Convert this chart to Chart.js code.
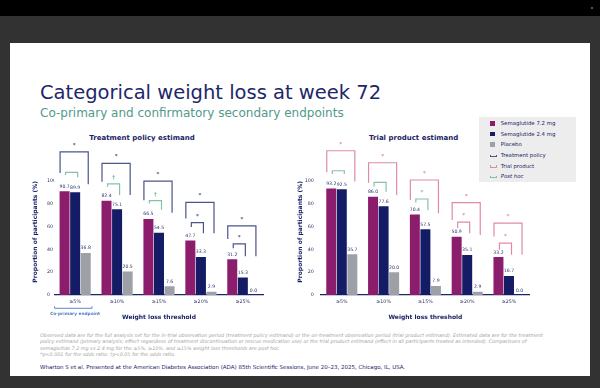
<!DOCTYPE html>
<html>
<head>
<meta charset="utf-8">
<script src="https://cdn.jsdelivr.net/npm/chart.js@4.4.1/dist/chart.umd.min.js"></script>
<style>
  html, body { margin: 0; padding: 0; }
  body { width: 600px; height: 388px; background: #323232; position: relative; overflow: hidden;
         font-family: "DejaVu Sans", Verdana, sans-serif; }
  .abs { position: absolute; white-space: nowrap; }
  #topbar { left: 0; top: 0; width: 600px; height: 16px; background: #000; }
  #dot { left: 591px; top: 7px; width: 2px; height: 2px; border-radius: 1px; background: #7b5fe0; }
  #slide { left: 10px; top: 43px; width: 580px; height: 333px; background: #fff; }
  #title { left: 40px; top: 82.5px; font-size: 19.5px; line-height: 20px; color: #1d2769; }
  #subtitle { left: 40px; top: 106.5px; font-size: 12px; line-height: 13px; color: #4f9a8b; }
  .panel { width: 200px; text-align: center; top: 134px; font-size: 7px; line-height: 8px;
           font-weight: bold; color: #1b2466; }
  #legend { left: 479px; top: 117px; width: 97px; height: 65px; background: #ededed; }
  .row { position: absolute; left: 0; height: 10.67px; line-height: 10.67px; font-size: 5.4px;
         color: #1b2466; white-space: nowrap; }
  .row span.text { position: absolute; left: 21.7px; }
  .sw { position: absolute; left: 11px; top: 3px; width: 4.7px; height: 4.7px; }
  .br { position: absolute; left: 10.5px; top: 4.5px; width: 5px; height: 1.5px; border: 1.1px solid;
        border-top: none; }
  #foot { left: 40px; top: 332px; font-size: 4.85px; line-height: 6.3px; font-style: italic; color: #a4a4a4; }
  #cite { left: 40px; top: 363.5px; font-size: 5.5px; line-height: 6px; color: #1b2466; }
  canvas { position: absolute; }
</style>
</head>
<body>
<div id="topbar" class="abs"></div>
<div id="dot" class="abs"></div>
<div id="slide" class="abs"></div>
<div id="title" class="abs">Categorical weight loss at week 72</div>
<div id="subtitle" class="abs">Co-primary and confirmatory secondary endpoints</div>
<div class="abs panel" style="left:42px">Treatment policy estimand</div>
<div class="abs panel" style="left:313.7px">Trial product estimand</div>
<canvas id="leftChart" width="250" height="196" style="left:20px;top:125px"></canvas>
<canvas id="rightChart" width="255" height="196" style="left:285px;top:125px"></canvas>
<div id="legend" class="abs"></div>
<div id="foot" class="abs">Observed data are for the full analysis set for the in-trial observation period (treatment policy estimand) or the on-treatment observation period (trial product estimand). Estimated data are for the treatment<br>policy estimand (primary analysis; effect regardless of treatment discontinuation or rescue medication use) or the trial product estimand (effect in all participants treated as intended). Comparisons of<br>semaglutide 7.2 mg vs 2.4 mg for the ≥5%, ≥10%, and ≥15% weight loss thresholds are post hoc.<br>*p&lt;0.001 for the odds ratio. †p&lt;0.05 for the odds ratio.</div>
<div id="cite" class="abs">Wharton S et al. Presented at the American Diabetes Association (ADA) 85th Scientific Sessions, June 20–23, 2025, Chicago, IL, USA.</div>

<script>
const categories = ['≥5%', '≥10%', '≥15%', '≥20%', '≥25%'];
const seriesNames = ['Semaglutide 7.2 mg', 'Semaglutide 2.4 mg', 'Placebo'];
const yTicks = [0, 20, 40, 60, 80, 100];

// treatment policy estimand
const tpSema72 = [90.7, 82.4, 66.5, 47.7, 31.2];
const tpSema24 = [89.9, 75.1, 54.5, 33.3, 15.3];
const tpPlacebo = [36.8, 20.5, 7.6, 2.9, 0.0];
// trial product estimand
const trSema72 = [93.2, 86.0, 70.4, 50.9, 33.2];
const trSema24 = [92.5, 77.6, 57.5, 35.1, 16.7];
const trPlacebo = [35.7, 20.0, 7.9, 2.9, 0.0];

// significance marks (outer: 7.2 mg vs placebo, inner: 7.2 mg vs 2.4 mg)
const postHoc = [true, true, true, false, false];
const tpOuterMarks = ['*', '*', '*', '*', '*'];
const tpInnerMarks = ['', '†', '†', '*', '*'];
const trOuterMarks = ['*', '*', '*', '*', '*'];
const trInnerMarks = ['', '', '*', '*', '*'];
// bracket levels in % units: [top, left leg end, right leg end]
const tpOuter = [[125.3, 106.7, 97], [115.2, 99, 87.5], [99.7, 83, 72], [81, 67, 54], [60.4, 49, 34]];
const tpInner = [[107.3, 105, 103], [97.2, 94.7, 87.5], [82.5, 80, 74.5], [63.3, 59.5, 54], [44.8, 41, 34]];
const trOuter = [[126.2, 107.3, 99.2], [115.7, 98.3, 87.5], [100.6, 83.2, 71.5], [80.8, 65.7, 52.6], [62.8, 51.1, 35.2]];
const trInner = [[108.7, 105.8, 105.8], [98.6, 95, 90.4], [84, 81, 74.4], [63.7, 58.5, 54.1], [45.4, 39.5, 35.2]];

const FONT = '"DejaVu Sans", Verdana, sans-serif';
const NAVY = '#1b2466';
const seriesColors = ['#8c1d6d', '#131c65', '#9da0a7'];
const TP_COLOR = '#4a5689';
const TR_COLOR = '#e08aa8';
const PH_COLOR = '#86c0a6';

// legend box
const legendItems = seriesNames.map((n, k) => ({ text: n, color: seriesColors[k], bar: true }))
  .concat([
    { text: 'Treatment policy', color: TP_COLOR },
    { text: 'Trial product', color: TR_COLOR },
    { text: 'Post hoc', color: PH_COLOR, italic: true }
  ]);
document.getElementById('legend').innerHTML = legendItems.map((it, i) =>
  `<div class="row" style="top:${1 + i * 10.67}px;width:97px">` +
  (it.bar ? `<span class="sw" style="background:${it.color}"></span>`
          : `<span class="br" style="border-color:${it.color}"></span>`) +
  `<span class="text"${it.italic ? ' style="font-style:italic"' : ''}>${it.text}</span></div>`).join('');

const valueLabels = {
  id: 'valueLabels',
  afterDatasetsDraw(chart) {
    const ctx = chart.ctx;
    ctx.save();
    ctx.font = '4.6px ' + FONT;
    ctx.fillStyle = '#2a3470';
    ctx.textAlign = 'center';
    ctx.textBaseline = 'alphabetic';
    chart.data.datasets.forEach((ds, k) => {
      chart.getDatasetMeta(k).data.forEach((el, i) => {
        ctx.fillText(ds.data[i].toFixed(1), el.x, el.y - 3.5);
      });
    });
    ctx.restore();
  }
};

function drawBracket(ctx, x1, x2, lv, y, color, mark) {
  const top = y.getPixelForValue(lv[0]);
  ctx.strokeStyle = color;
  ctx.beginPath();
  ctx.moveTo(x1, y.getPixelForValue(lv[1]));
  ctx.lineTo(x1, top);
  ctx.lineTo(x2, top);
  ctx.lineTo(x2, y.getPixelForValue(lv[2]));
  ctx.stroke();
  if (mark) {
    ctx.fillStyle = color;
    ctx.fillText(mark, (x1 + x2) / 2, top - 5);
  }
}

const brackets = {
  id: 'brackets',
  afterDatasetsDraw(chart, args, opts) {
    const { ctx, chartArea, scales: { y } } = chart;
    const m0 = chart.getDatasetMeta(0).data;
    const m1 = chart.getDatasetMeta(1).data;
    const m2 = chart.getDatasetMeta(2).data;
    ctx.save();
    ctx.lineWidth = 1.2;
    ctx.font = 'bold 5.5px ' + FONT;
    ctx.textAlign = 'center';
    ctx.textBaseline = 'alphabetic';
    categories.forEach((c, i) => {
      const half = m0[i].width / 2;
      drawBracket(ctx, m0[i].x - half + 0.5, m2[i].x + 2.5, opts.outer[i], y, opts.color, opts.outerMarks[i]);
      drawBracket(ctx, m0[i].x + 1, m1[i].x + 2.5, opts.inner[i], y,
        postHoc[i] ? PH_COLOR : opts.color, opts.innerMarks[i]);
    });
    // y axis title
    ctx.save();
    ctx.translate(15.7, (chartArea.top + chartArea.bottom) / 2 - 6);
    ctx.rotate(-Math.PI / 2);
    ctx.fillStyle = NAVY;
    ctx.font = 'bold 6px ' + FONT;
    ctx.textBaseline = 'middle';
    ctx.fillText('Proportion of participants (%)', 0, 0);
    ctx.restore();
    // co-primary endpoint marker under the first category
    if (opts.coPrimary) {
      const half = m0[0].width / 2;
      const x1 = m0[0].x - half - 5;
      const x2 = m2[0].x + half + 1.3;
      const yl = chartArea.bottom + 13.3;
      ctx.strokeStyle = '#4a7dc9';
      ctx.lineWidth = 0.9;
      ctx.beginPath();
      ctx.moveTo(x1, yl - 2); ctx.lineTo(x1, yl); ctx.lineTo(x2, yl); ctx.lineTo(x2, yl - 2);
      ctx.stroke();
      ctx.fillStyle = '#4a7dc9';
      ctx.font = 'bold 4.3px ' + FONT;
      ctx.textBaseline = 'middle';
      ctx.fillText('Co-primary endpoint', m1[0].x, yl + 6);
    }
    ctx.restore();
  }
};

function makeChart(id, values, cfg) {
  return new Chart(document.getElementById(id), {
    type: 'bar',
    data: {
      labels: categories,
      datasets: seriesNames.map((n, k) => ({
        label: n,
        data: values[k],
        backgroundColor: seriesColors[k],
        categoryPercentage: 0.757,
        barPercentage: 0.946
      }))
    },
    options: {
      responsive: false,
      animation: false,
      layout: { padding: { left: cfg.padLeft, right: cfg.padRight, top: 55.7, bottom: 0 } },
      plugins: {
        legend: { display: false },
        tooltip: { enabled: false },
        brackets: cfg.brackets
      },
      scales: {
        x: {
          grid: { display: false, drawTicks: false },
          border: { color: NAVY, width: 1.2 },
          ticks: { font: { size: 4.8, family: FONT }, color: '#2d3568', padding: 4 },
          title: { display: true, text: 'Weight loss threshold', color: NAVY, padding: 0,
                   font: { size: 6, weight: 'bold', family: FONT } },
          afterFit: s => { s.height = 26; }
        },
        y: {
          min: 0,
          max: 100,
          afterBuildTicks: s => { s.ticks = yTicks.map(v => ({ value: v })); },
          grid: { display: false, drawTicks: false },
          border: { display: false },
          ticks: { font: { size: 4.8, family: FONT }, color: '#2d3568',
                   crossAlign: cfg.crossAlign, padding: cfg.tickPad },
          afterFit: s => { s.width = cfg.yWidth; }
        }
      }
    },
    plugins: [valueLabels, brackets]
  });
}

makeChart('leftChart', [tpSema72, tpSema24, tpPlacebo], {
  padLeft: 27, padRight: 6.2, yWidth: 7.2, crossAlign: 'far', tickPad: 3,
  brackets: { color: TP_COLOR, outer: tpOuter, inner: tpInner,
              outerMarks: tpOuterMarks, innerMarks: tpInnerMarks, coPrimary: true }
});
makeChart('rightChart', [trSema72, trSema24, trPlacebo], {
  padLeft: 20, padRight: 10.1, yWidth: 15.9, crossAlign: 'near', tickPad: 7,
  brackets: { color: TR_COLOR, outer: trOuter, inner: trInner,
              outerMarks: trOuterMarks, innerMarks: trInnerMarks, coPrimary: false }
});
</script>
</body>
</html>
